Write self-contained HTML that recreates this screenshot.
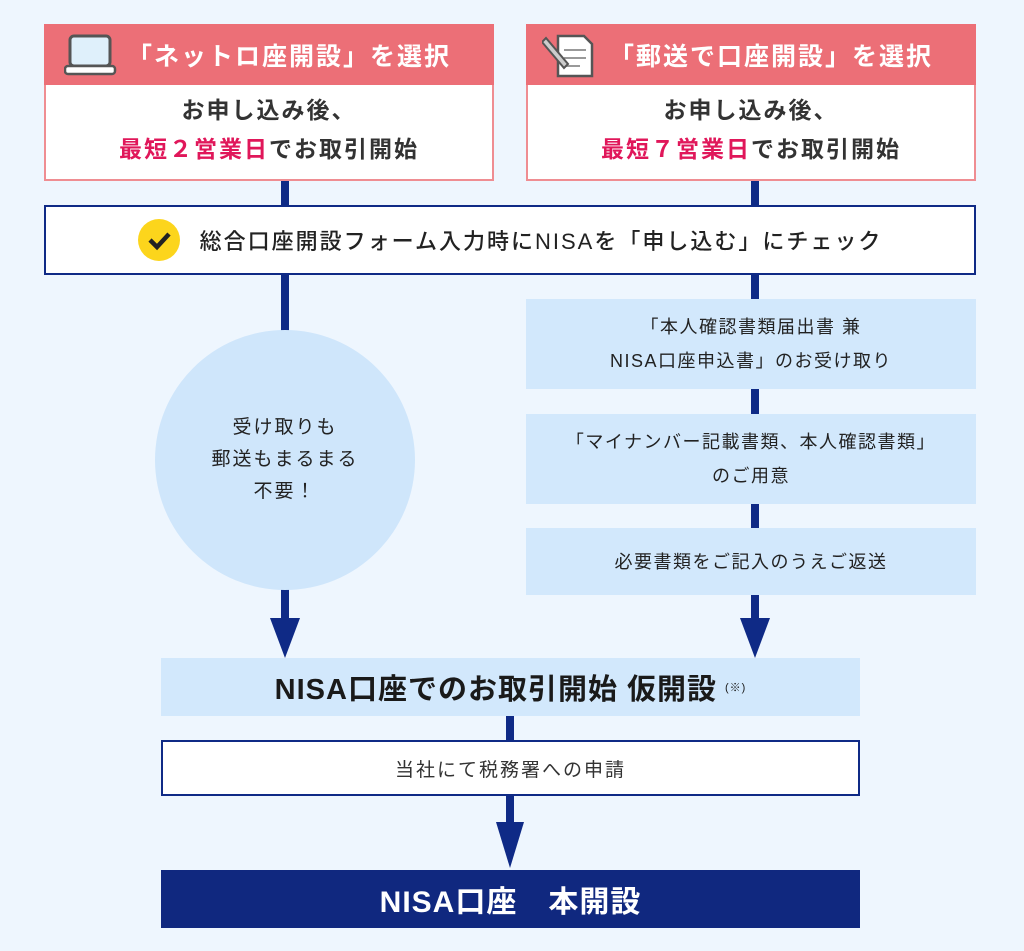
<!DOCTYPE html>
<html><head><meta charset="utf-8"><style>
body{margin:0;width:1024px;height:951px;background:#eef6fe;position:relative;overflow:hidden;font-family:"Liberation Sans","Noto Sans CJK JP",sans-serif;color:#222}
.a{position:absolute;box-sizing:border-box}
.hd{background:#ec6f77;color:#fff;font-weight:bold;font-size:25px;display:flex;align-items:center;justify-content:center;letter-spacing:2px}
.bd{background:#fff;border:2px solid #ef8d92;border-top:none;text-align:center;font-size:23px;line-height:39px;padding-top:6px;letter-spacing:2px;font-weight:bold;color:#333}
.r{color:#e0175a}
.ln{background:#0f2a86}
.lb{background:#d2e8fc;display:flex;align-items:center;justify-content:center;text-align:center;font-size:18px;line-height:34px;letter-spacing:1.5px}
.c{display:flex;align-items:center;justify-content:center;text-align:center}
</style></head><body>
<div class="a ln" style="left:281px;top:180px;width:8px;height:160px"></div>
<div class="a ln" style="left:751px;top:180px;width:8px;height:440px"></div>
<div class="a ln" style="left:281px;top:580px;width:8px;height:40px"></div>
<div class="a ln" style="left:506px;top:714px;width:8px;height:110px"></div>
<svg class="a" style="left:0;top:0" width="1024" height="951">
<polygon points="270,618 300,618 285,658" fill="#0f2a86"/>
<polygon points="740,618 770,618 755,658" fill="#0f2a86"/>
<polygon points="496,822 524,822 510,868" fill="#0f2a86"/>
</svg>
<div class="a hd" style="left:44px;top:24px;width:450px;height:61px;padding-left:40px">「ネットロ座開設」を選択</div>
<svg class="a" style="left:64px;top:34px" width="54" height="42"><rect x="6" y="2" width="40" height="30" rx="4" fill="#dff0fb" stroke="#555" stroke-width="3"/><rect x="1" y="32" width="50" height="8" rx="3" fill="#fff" stroke="#555" stroke-width="2.5"/></svg>
<div class="a bd" style="left:44px;top:85px;width:450px;height:96px">お申し込み後、<br><span class="r">最短２営業日</span>でお取引開始</div>
<div class="a hd" style="left:526px;top:24px;width:450px;height:61px;padding-left:40px">「郵送で口座開設」を選択</div>
<svg class="a" style="left:542px;top:32px" width="56" height="46"><path d="M16 4h26l8 8v32H16z" fill="#fff" stroke="#555" stroke-width="2.5"/><path d="M22 18h22M22 26h22M22 34h16" stroke="#999" stroke-width="2"/><path d="M4 6l22 26-4 4-22-26z" fill="#ccc" stroke="#555" stroke-width="2"/></svg>
<div class="a bd" style="left:526px;top:85px;width:450px;height:96px">お申し込み後、<br><span class="r">最短７営業日</span>でお取引開始</div>
<div class="a c" style="left:44px;top:205px;width:932px;height:70px;background:#fff;border:2px solid #0f2a86;font-size:22px;letter-spacing:2px;color:#222;font-weight:500"><span style="display:inline-block;width:42px;height:42px;border-radius:50%;background:#fcd51c;margin-right:20px;position:relative"><svg width="42" height="42"><path d="M12 21l7 7 12-13" fill="none" stroke="#222" stroke-width="4.5"/></svg></span>総合口座開設フォーム入力時にNISAを「申し込む」にチェック</div>
<div class="a c" style="left:155px;top:330px;width:260px;height:260px;border-radius:50%;background:#cfe6fb;font-size:19px;line-height:32px;letter-spacing:2px">受け取りも<br>郵送もまるまる<br>不要！</div>
<div class="a lb" style="left:526px;top:299px;width:450px;height:90px">「本人確認書類届出書 兼<br>NISA口座申込書」のお受け取り</div>
<div class="a lb" style="left:526px;top:414px;width:450px;height:90px">「マイナンバー記載書類、本人確認書類」<br>のご用意</div>
<div class="a lb" style="left:526px;top:528px;width:450px;height:67px">必要書類をご記入のうえご返送</div>
<div class="a c" style="left:161px;top:658px;width:699px;height:58px;background:#d2e8fc;font-size:29px;font-weight:bold;letter-spacing:1px;color:#1a1a1a">NISA口座でのお取引開始 仮開設<span style="font-size:11px;font-weight:normal;margin-left:8px">(※)</span></div>
<div class="a c" style="left:161px;top:740px;width:699px;height:56px;background:#fff;border:2px solid #0f2a86;font-size:19px;letter-spacing:2px;color:#333">当社にて税務署への申請</div>
<div class="a c" style="left:161px;top:870px;width:699px;height:58px;background:#10287f;color:#fff;font-size:30px;font-weight:bold;letter-spacing:1px">NISA口座　本開設</div>
</body></html>
